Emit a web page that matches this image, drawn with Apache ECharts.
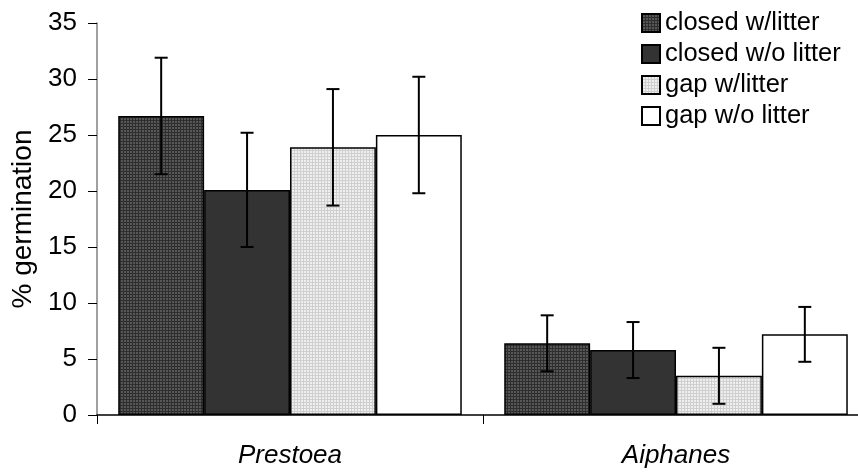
<!DOCTYPE html>
<html>
<head>
<meta charset="utf-8">
<script src="https://cdn.jsdelivr.net/npm/echarts@6/dist/echarts.min.js"></script>
<style>
  html, body { margin: 0; padding: 0; background: #fff; }
  #chart { width: 858px; height: 475px; }
</style>
</head>
<body>
<div id="chart"></div>
<script>
// data
const categories = ['Prestoea', 'Aiphanes']
const seriesNames = ['closed w/litter', 'closed w/o litter', 'gap w/litter', 'gap w/o litter']
const means = [
  [26.7, 6.4],  // closed w/litter
  [20.1, 5.8],  // closed w/o litter
  [23.9, 3.5],  // gap w/litter
  [25.0, 7.2],  // gap w/o litter
]
const errors = [
  [5.2, 2.5],
  [5.1, 2.5],
  [5.2, 2.5],
  [5.2, 2.45],
]
const yTicks = [0, 5, 10, 15, 20, 25, 30, 35]

const FONT = 'Liberation Sans'
const BAR_W = 0.2225 // share of category band per bar

// small tiled patterns like the dotted fills of the original
function makePattern(lineColor, dotColor) {
  const c = document.createElement('canvas')
  c.width = 3
  c.height = 3
  const ctx = c.getContext('2d')
  ctx.fillStyle = lineColor
  ctx.fillRect(0, 0, 3, 3)
  ctx.fillStyle = dotColor
  ctx.fillRect(1, 1, 2, 2)
  return { image: c, repeat: 'repeat' }
}

const fills = [
  makePattern('#2e2e2e', '#575757'),
  '#333333',
  makePattern('#cfcfcf', '#efefef'),
  '#ffffff',
]

const chart = echarts.init(document.getElementById('chart'))

const barSeries = seriesNames.map((name, i) => ({
  name,
  type: 'bar',
  data: means[i],
  barWidth: (BAR_W * 100) + '%',
  barGap: '0%',
  itemStyle: {
    color: fills[i],
    borderColor: '#000',
    borderWidth: 1.5,
  },
  emphasis: { disabled: true },
  z: 2,
}))

// error bars, one custom series per group
const errSeries = seriesNames.map((name, i) => ({
  type: 'custom',
  data: means[i].map((m, j) => [j, m - errors[i][j], m + errors[i][j]]),
  renderItem(params, api) {
    const cat = api.value(0)
    const lo = api.coord([cat, api.value(1)])
    const hi = api.coord([cat, api.value(2)])
    const band = api.size([1, 0])[0]
    const x = lo[0] + (i - 1.5) * band * BAR_W
    const cap = 6.5
    const style = { stroke: '#000', lineWidth: 2 }
    return {
      type: 'group',
      children: [
        { type: 'line', shape: { x1: x, y1: lo[1], x2: x, y2: hi[1] }, style },
        { type: 'line', shape: { x1: x - cap, y1: hi[1], x2: x + cap, y2: hi[1] }, style },
        { type: 'line', shape: { x1: x - cap, y1: lo[1], x2: x + cap, y2: lo[1] }, style },
      ],
    }
  },
  z: 5,
  silent: true,
}))

chart.setOption({
  animation: false,
  textStyle: { fontFamily: FONT },
  grid: {
    left: 97,
    top: 23,
    width: 772,
    bottom: 60,
    containLabel: false,
    outerBoundsMode: 'none',
  },
  legend: {
    data: seriesNames,
    orient: 'vertical',
    left: 636,
    top: 5,
    itemWidth: 18,
    itemHeight: 18,
    itemGap: 5,
    icon: 'rect',
    textStyle: { fontSize: 25.5, color: '#000', fontFamily: FONT },
    selectedMode: false,
  },
  xAxis: {
    type: 'category',
    data: categories,
    axisLine: { lineStyle: { color: '#000', width: 1.5 } },
    axisTick: { show: true, length: 9, lineStyle: { color: '#000' } },
    axisLabel: {
      fontSize: 26,
      fontStyle: 'italic',
      color: '#000',
      margin: 28,
      fontFamily: FONT,
    },
  },
  yAxis: {
    type: 'value',
    min: yTicks[0],
    max: yTicks[yTicks.length - 1],
    interval: 5,
    name: '% germination',
    nameLocation: 'middle',
    nameGap: 54,
    nameRotate: 90,
    nameTextStyle: { fontSize: 28, color: '#000', fontFamily: FONT },
    axisLine: { show: true, lineStyle: { color: '#808080', width: 1.5 } },
    axisTick: { show: true, length: 9, lineStyle: { color: '#000' } },
    axisLabel: { fontSize: 26, color: '#000', margin: 20, fontFamily: FONT },
    splitLine: { show: false },
  },
  series: [...barSeries, ...errSeries],
})
</script>
</body>
</html>
